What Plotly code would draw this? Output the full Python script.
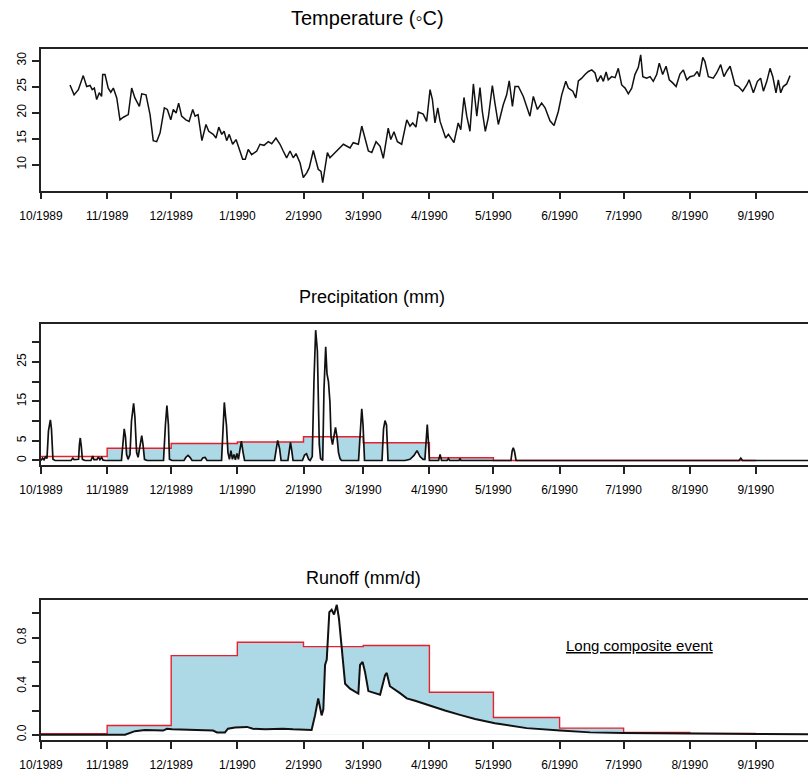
import pandas as pd
import plotly.graph_objects as go

# ---------------------------------------------------------------------------
# Data (days counted from 1 Oct 1989)
# ---------------------------------------------------------------------------
temp_day = [13.6, 15.5, 17.5, 19.8, 21.4, 23.0, 24.0, 25.0, 26.1, 27.3,
            28.4, 28.9, 30.0, 31.5, 32.7, 33.9, 35.5, 37.0, 38.6, 40.9,
            42.5, 44.0, 46.1, 47.2, 49.2, 51.1, 52.6, 54.2, 55.8, 57.8,
            59.2, 60.8, 62.0, 63.3, 64.5, 65.9, 67.9, 69.4, 71.1, 72.2,
            73.6, 75.4, 77.3, 78.6, 80.7, 82.0, 83.3, 84.7, 85.8, 87.0,
            88.2, 89.8, 91.4, 94.5, 95.7, 97.1, 98.7, 101.1, 102.6, 104.5,
            106.5, 108.1, 110.1, 112.0, 113.5, 115.1, 116.7, 118.2, 119.5, 121.4,
            122.9, 124.5, 125.7, 127.6, 129.9, 131.2, 132.0, 134.2, 135.4, 138.6,
            141.7, 144.8, 146.3, 148.7, 150.3, 151.8, 153.4, 155.0, 157.0, 158.9,
            160.4, 162.7, 163.9, 165.4, 167.0, 169.0, 171.4, 172.9, 174.2, 175.7,
            176.8, 179.1, 180.7, 182.3, 183.4, 184.6, 185.9, 187.0, 189.6, 190.9,
            193.5, 195.5, 196.7, 198.2, 199.5, 201.0, 202.6, 204.2, 205.7, 206.8,
            208.2, 209.6, 211.5, 212.7, 214.3, 216.6, 218.2, 219.4, 220.9, 222.1,
            223.7, 226.0, 229.1, 230.7, 232.6, 234.6, 236.2, 238.5, 240.4, 242.4,
            244.0, 245.9, 247.1, 249.2, 250.6, 251.8, 253.4, 254.9, 256.5, 258.1,
            259.6, 260.7, 262.3, 263.5, 264.8, 265.8, 267.4, 269.0, 270.5, 272.1,
            273.7, 275.2, 276.8, 278.3, 279.9, 281.0, 282.0, 283.8, 285.4, 286.9,
            288.5, 289.7, 291.3, 292.9, 294.4, 296.0, 297.6, 299.4, 301.0, 302.6,
            304.1, 306.0, 307.5, 308.5, 310.1, 311.1, 312.7, 315.0, 316.6, 318.5,
            320.0, 321.3, 322.9, 325.2, 326.8, 328.8, 330.7, 331.8, 333.8, 335.7,
            337.2, 338.5, 340.1, 341.6, 342.9, 344.4, 345.5, 346.6, 347.8, 349.4,
            351.0]
temp_val = [25.3, 23.4, 24.4, 27.1, 25.0, 25.2, 24.4, 24.7, 22.5, 23.8,
            23.1, 27.3, 27.3, 24.7, 23.9, 24.7, 22.8, 18.6, 19.1, 19.6,
            24.7, 22.8, 21.2, 23.6, 23.4, 19.6, 14.6, 14.4, 16.1, 20.9,
            20.6, 18.6, 20.6, 19.9, 21.8, 19.3, 18.6, 18.3, 20.6, 19.3,
            19.6, 14.6, 17.7, 16.4, 15.8, 15.1, 17.2, 15.8, 16.4, 14.6,
            15.8, 13.9, 14.8, 11.0, 11.0, 12.9, 11.9, 12.6, 13.9, 13.7,
            14.4, 14.0, 15.1, 13.9, 12.6, 11.3, 12.6, 11.3, 12.1, 10.3,
            7.5, 8.4, 9.4, 12.7, 9.1, 8.7, 6.5, 12.3, 11.3, 12.6,
            13.9, 13.2, 14.2, 13.9, 17.4, 15.1, 12.6, 12.3, 14.4, 13.5,
            11.2, 17.0, 14.8, 16.3, 14.4, 13.9, 18.6, 17.4, 18.0, 17.2,
            20.1, 19.7, 18.3, 24.4, 22.5, 18.0, 20.9, 18.3, 15.1, 15.8,
            14.2, 18.0, 16.7, 22.9, 19.3, 16.4, 25.5, 19.3, 24.8, 20.2,
            16.4, 19.0, 25.2, 21.8, 17.7, 21.5, 23.4, 26.1, 21.2, 25.0,
            25.0, 23.1, 19.3, 23.1, 20.6, 21.8, 20.9, 18.4, 17.5, 20.2,
            23.4, 26.0, 24.7, 24.1, 22.8, 26.1, 26.6, 27.3, 27.9, 28.2,
            27.6, 25.9, 27.1, 26.0, 27.8, 26.3, 26.9, 26.7, 28.5, 25.3,
            24.7, 23.6, 24.7, 27.3, 28.7, 31.1, 26.9, 26.6, 26.9, 26.0,
            27.3, 29.5, 27.3, 28.9, 26.3, 25.7, 25.0, 27.4, 28.2, 26.3,
            26.9, 27.1, 27.9, 26.9, 30.6, 29.8, 26.9, 26.6, 27.6, 29.2,
            26.9, 27.9, 28.9, 25.3, 25.0, 24.1, 25.3, 26.3, 23.8, 26.0,
            26.6, 24.1, 26.0, 28.5, 26.9, 23.8, 26.3, 23.8, 25.0, 25.5,
            27.1]

precip_day = [0, 0.7, 1.4, 2.1, 2.8, 3.5, 4.4, 4.9, 5.6, 6.6,
              14.1, 14.9, 15.5, 17.6, 18.0, 18.4, 18.9, 19.4, 20.6, 23.4,
              24.2, 24.8, 26.2, 26.9, 27.6, 28.4, 29.1, 30.5, 37.7, 38.4,
              39.0, 39.6, 40.1, 40.8, 41.7, 42.4, 43.4, 44.0, 44.8, 45.5,
              46.4, 47.2, 47.8, 48.5, 49.7, 57.4, 58.3, 59.0, 59.7, 60.2,
              61.4, 67.0, 68.0, 68.9, 69.8, 70.8, 75.0, 75.9, 76.9, 77.8,
              84.6, 85.3, 85.9, 86.5, 86.9, 87.6, 88.3, 89.0, 89.7, 90.4,
              91.1, 91.8, 92.5, 93.3, 93.9, 94.7, 95.4, 109.4, 110.1, 110.9,
              111.8, 112.5, 115.7, 116.5, 116.9, 117.5, 118.1, 122.5, 123.5, 124.4,
              125.4, 126.1, 127.1, 127.9, 128.7, 129.5, 130.0, 130.4, 131.0, 132.0,
              132.6, 133.4, 134.0, 134.7, 135.4, 135.9, 136.6, 137.3, 138.0, 138.7,
              139.4, 140.1, 140.8, 148.8, 149.5, 150.3, 150.9, 151.6, 159.8, 160.5,
              161.2, 161.9, 162.6, 170.6, 172.9, 174.8, 176.2, 177.6, 179.0, 179.9,
              180.6, 181.0, 181.5, 182.0, 186.3, 187.0, 187.7, 190.3, 190.9, 191.5,
              195.9, 196.3, 196.8, 220.2, 220.8, 221.3, 221.9, 222.6, 327.1, 327.9,
              328.7, 364]
precip_val = [0, 0.6, 0.2, 0.9, 0.5, 7.5, 10.3, 8.0, 0.3, 0,
              0, 0.6, 0.2, 0.3, 4.0, 5.7, 3.5, 0.3, 0, 0,
              1.1, 0.2, 0.2, 0.9, 0.2, 0.8, 0.1, 0, 0, 5.0,
              8.0, 5.9, 1.5, 0.3, 1.5, 10.0, 14.5, 11.0, 2.0, 0.8,
              4.0, 6.3, 4.0, 0.3, 0, 0, 9.0, 13.9, 9.0, 0.3,
              0, 0, 0.9, 1.3, 0.8, 0, 0, 0.7, 0.8, 0,
              0, 9.0, 14.7, 11.0, 9.0, 2.0, 0.3, 2.5, 0.3, 1.5,
              0.2, 1.8, 0.3, 3.0, 4.9, 2.0, 0, 0, 3.0, 5.1,
              3.0, 0, 0, 3.5, 4.6, 2.5, 0, 0, 1.4, 1.7,
              0.3, 0, 1.0, 20.0, 33.0, 27.8, 15.0, 4.0, 0.5, 0,
              18.0, 28.8, 22.0, 20.0, 14.7, 6.0, 4.0, 6.5, 8.4, 6.0,
              2.0, 0.5, 0, 0, 7.0, 13.1, 9.0, 0, 0, 8.0,
              10.1, 9.0, 0, 0, 0.3, 1.3, 2.5, 1.0, 0.3, 0.3,
              6.0, 9.1, 5.0, 0, 0, 1.5, 0, 0, 0.5, 0,
              0, 0.5, 0, 0, 2.5, 3.2, 2.2, 0, 0, 0.6,
              0, 0]

runoff_day = [0, 39.4, 44.0, 48.7, 57.2, 59.0, 61.4, 76.9, 80.6, 82.5,
              86.2, 87.6, 90.9, 96.5, 99.3, 105.0, 113.4, 118.1, 126.8, 128.4,
              129.9, 131.5, 132.3, 133.1, 133.9, 135.1, 136.2, 137.3, 138.6, 139.6,
              140.9, 142.5, 144.8, 148.7, 149.5, 150.7, 151.8, 153.4, 158.9, 161.2,
              162.0, 163.5, 168.2, 171.4, 175.3, 182.3, 189.3, 196.3, 203.4, 212.7,
              219.8, 227.6, 243.2, 257.3, 272.9, 286.9, 304.1, 335.0, 364.0]
runoff_val = [0.0, 0.0, 0.03, 0.04, 0.035, 0.05, 0.045, 0.04, 0.035, 0.02,
              0.02, 0.05, 0.06, 0.065, 0.05, 0.045, 0.05, 0.045, 0.04, 0.16,
              0.30, 0.16, 0.21, 0.575, 0.62, 1.01, 1.03, 0.99, 1.07, 0.96,
              0.71, 0.42, 0.38, 0.34, 0.575, 0.60, 0.52, 0.36, 0.33, 0.49,
              0.51, 0.40, 0.343, 0.30, 0.28, 0.237, 0.20, 0.164, 0.13, 0.096,
              0.075, 0.055, 0.036, 0.02, 0.014, 0.011, 0.008, 0.006, 0.004]

# Monthly step levels, Oct 1989 .. Aug 1990
months = ["1989-10-01", "1989-11-01", "1989-12-01", "1990-01-01", "1990-02-01",
          "1990-03-01", "1990-04-01", "1990-05-01", "1990-06-01", "1990-07-01",
          "1990-08-01"]
step_end = "1990-09-01"
precip_month = [1.0, 3.1, 4.3, 4.7, 6.0, 4.5, 0.7, 0.0, 0.0, 0.0, 0.0]
runoff_month = [0.01, 0.077, 0.652, 0.762, 0.726, 0.735, 0.351, 0.143, 0.055, 0.02, 0.012]
event_start = 1  # the composite event starts in Nov 1989

tick_dates = ["1989-10-01", "1989-11-01", "1989-12-01", "1990-01-01", "1990-02-01",
              "1990-03-01", "1990-04-01", "1990-05-01", "1990-06-01", "1990-07-01",
              "1990-08-01", "1990-09-01"]
tick_text = ["10/1989", "11/1989", "12/1989", "1/1990", "2/1990", "3/1990",
             "4/1990", "5/1990", "6/1990", "7/1990", "8/1990", "9/1990"]

# ---------------------------------------------------------------------------
BASE = pd.Timestamp("1989-10-01")


def to_dates(days):
    return list(BASE + pd.to_timedelta(days, unit="D"))


BLACK = "#111111"
RED = "#e8202c"
BLUE = "#add8e6"
AXIS = "#222222"
FONT = "Liberation Sans, Arial, sans-serif"

fig = go.Figure()


def step_xy(levels, first=0):
    xs = [pd.Timestamp(m) for m in months[first:]] + [pd.Timestamp(step_end)]
    ys = list(levels[first:]) + [levels[-1]]
    return xs, ys


def add_event_panel(days, vals, levels, xa, ya, lw):
    x = to_dates(days)
    # blue: area under the monthly step during the event
    sx, sy = step_xy(levels, event_start)
    fig.add_trace(go.Scatter(x=sx, y=sy, mode="lines", line=dict(width=0, shape="hv"),
                             fill="tozeroy", fillcolor=BLUE, xaxis=xa, yaxis=ya,
                             hoverinfo="skip"))
    # area under the daily series stays white
    fig.add_trace(go.Scatter(x=x, y=vals, mode="lines", line=dict(width=0),
                             fill="tozeroy", fillcolor="white", xaxis=xa, yaxis=ya,
                             hoverinfo="skip"))
    # red monthly step
    rx, ry = step_xy(levels, 0)
    fig.add_trace(go.Scatter(x=rx, y=ry, mode="lines",
                             line=dict(color=RED, width=1.4, shape="hv"),
                             xaxis=xa, yaxis=ya))
    # daily series
    fig.add_trace(go.Scatter(x=x, y=vals, mode="lines",
                             line=dict(color=BLACK, width=lw),
                             xaxis=xa, yaxis=ya))


# Temperature
fig.add_trace(go.Scatter(x=to_dates(temp_day), y=temp_val, mode="lines",
                         line=dict(color=BLACK, width=1.5), xaxis="x", yaxis="y"))
# Precipitation
add_event_panel(precip_day, precip_val, precip_month, "x2", "y2", 1.7)
# Runoff
add_event_panel(runoff_day, runoff_val, runoff_month, "x3", "y3", 2.0)

H = 774.0
x_range = [BASE, BASE + pd.Timedelta(days=359.4)]


def xaxis(anchor):
    return dict(domain=[0, 1], anchor=anchor, type="date", range=x_range,
                tickvals=[pd.Timestamp(t) for t in tick_dates], ticktext=tick_text,
                ticks="outside", ticklen=7, tickwidth=1.5, tickcolor=AXIS,
                showline=True, mirror=True, linecolor=AXIS, linewidth=1.6,
                showgrid=False, zeroline=False, ticklabelstandoff=6,
                tickfont=dict(family=FONT, size=12, color="#000"))


def yaxis(anchor, top_px, bottom_px, rng, vals, text):
    return dict(domain=[1 - bottom_px / H, 1 - top_px / H], anchor=anchor, range=rng,
                tickvals=vals, ticktext=text, tickangle=-90,
                ticks="outside", ticklen=7, tickwidth=1.5, tickcolor=AXIS,
                showline=True, mirror=False, linecolor=AXIS, linewidth=1.6,
                showgrid=False, zeroline=False, ticklabelstandoff=1,
                tickfont=dict(family=FONT, size=12, color="#000"))


fig.update_layout(
    width=808, height=774,
    margin=dict(l=41, r=0, t=0, b=0),
    paper_bgcolor="white", plot_bgcolor="white",
    showlegend=False,
    xaxis=xaxis("y"),
    xaxis2=xaxis("y2"),
    xaxis3=xaxis("y3"),
    yaxis=yaxis("x", 49, 191, [5.01, 32.24], [10, 15, 20, 25, 30],
                ["10", "15", "20", "25", "30"]),
    yaxis2=yaxis("x2", 325, 466, [-1.09, 34.52], [0, 5, 10, 15, 20, 25, 30],
                 ["0", "5", "", "15", "", "25", ""]),
    yaxis3=yaxis("x3", 601.7, 741.7, [-0.041, 1.109], [0, 0.2, 0.4, 0.6, 0.8, 1.0],
                 ["0.0", "", "0.4", "", "0.8", ""]),
)


def px_x(px):
    return (px - 41) / 767.0


def px_y(px):
    return 1 - px / H


titles = [("Temperature (\u25e6C)", 367, 18, 20), ("Precipitation (mm)", 372, 298, 18),
          ("Runoff (mm/d)", 363, 579, 18)]
for text, cx, cy, size in titles:
    fig.add_annotation(text=text, x=px_x(cx), y=px_y(cy), xref="paper", yref="paper",
                       showarrow=False, xanchor="center", yanchor="middle",
                       font=dict(family=FONT, size=size, color="#000"))

fig.add_annotation(text="<u>Long composite event</u>", x=px_x(640), y=px_y(647),
                   xref="paper", yref="paper", showarrow=False,
                   xanchor="center", yanchor="middle",
                   font=dict(family=FONT, size=15, color="#000"))

fig.write_html("out.html")
